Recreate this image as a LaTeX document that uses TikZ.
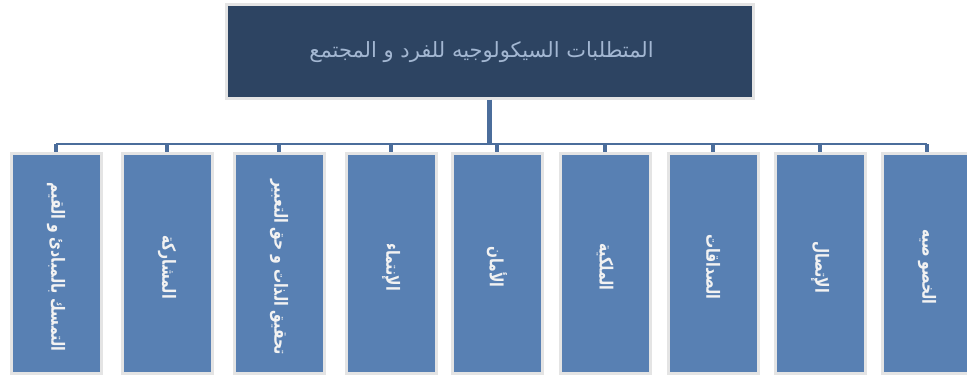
\documentclass[tikz,border=0pt]{standalone}
\usepackage{fontspec}
\newfontfamily\arabicfont[Script=Arabic]{DejaVu Sans}
\TeXXeTstate=1
\definecolor{topfill}{HTML}{2D4462}
\definecolor{boxfill}{HTML}{5880B3}
\definecolor{conncol}{HTML}{4B6D9B}
\definecolor{edgecol}{HTML}{E4E4E4}
\definecolor{titlecol}{HTML}{A3B7D2}
\definecolor{labcol}{HTML}{F2F2F2}
\tikzset{
  topbox/.style={draw=edgecol, line width=3pt, fill=topfill, minimum width=527pt, minimum height=94pt, inner sep=0pt},
  itembox/.style={draw=edgecol, line width=3pt, fill=boxfill, minimum width=90pt, minimum height=220pt, inner sep=0pt},
  itemtext/.style={rotate=-90, yscale=1.3, text=labcol, font=\arabicfont\bfseries\fontsize{14}{17}\selectfont, inner sep=0pt},
  conn/.style={draw=conncol}
}
\begin{document}
\begin{tikzpicture}[x=1pt,y=-1pt]
\useasboundingbox (0,0) rectangle (967,378);
\clip (0,0) rectangle (967,378);
\node[topbox] (top) at (489.5,51) {};
\node[text=titlecol, font=\arabicfont\fontsize{21}{25}\selectfont] (title) at ([xshift=-8pt,yshift=-1pt]top.center) {\beginR المتطلبات السيكولوجيه للفرد و المجتمع\endR};
\foreach \i/\x in {1/56,2/167,3/279,4/391,5/497,6/605,7/713,8/820,9/927}{
  \node[itembox] (b\i) at (\x,263) {};
}
\node[itemtext] (t1) at ([yshift=-4pt]b1.center) {\beginR التمسك بالمبادئ و القيم\endR};
\node[itemtext] (t2) at ([yshift=-4pt]b2.center) {\beginR المشاركة\endR};
\node[itemtext] (t3) at ([yshift=-4pt]b3.center) {\beginR تحقيق الذات و حق التعبير\endR};
\node[itemtext] (t4) at ([yshift=-4pt]b4.center) {\beginR الإنتماء\endR};
\node[itemtext] (t5) at ([yshift=-4pt]b5.center) {\beginR الأمان\endR};
\node[itemtext] (t6) at ([yshift=-4pt]b6.center) {\beginR الملكية\endR};
\node[itemtext] (t7) at ([yshift=-4pt]b7.center) {\beginR الصداقات\endR};
\node[itemtext] (t8) at ([yshift=-4pt]b8.center) {\beginR الإتصال\endR};
\node[itemtext] (t9) at ([yshift=-4pt]b9.center) {\beginR الخصو صيه\endR};
\coordinate (bus) at (489.5,144);
\draw[conn, line width=4.5pt] (top.south) -- (top.south |- bus);
\draw[conn, line width=2.5pt] (b1.north |- bus) -- (b9.north |- bus);
\foreach \i in {1,...,9}{
  \draw[conn, line width=4pt] (b\i.north |- bus) -- (b\i.north);
}
\end{tikzpicture}
\end{document}
